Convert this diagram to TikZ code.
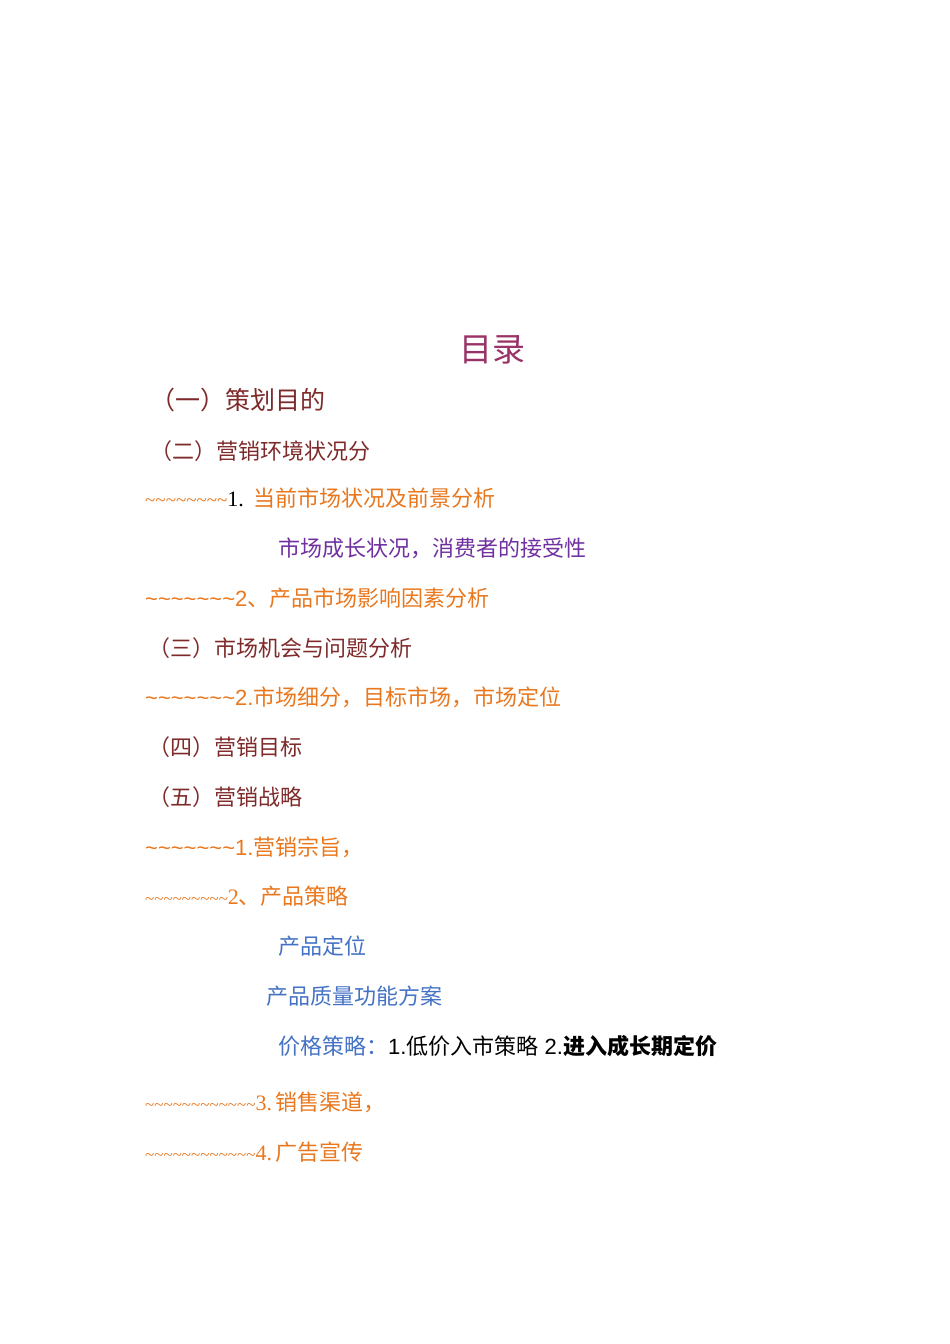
\documentclass[tikz,border=0pt]{standalone}
\usepackage{fontspec}
\setmainfont{Liberation Serif}
\newfontfamily\cjk{Noto Sans CJK SC}
\newfontfamily\lsans{Liberation Sans}
\def\T{\textasciitilde}
\definecolor{ttl}{HTML}{993366}
\definecolor{dred}{HTML}{7F2A2A}
\definecolor{org}{HTML}{E8771E}
\definecolor{pur}{HTML}{7030A0}
\definecolor{blu}{HTML}{4472C4}
\begin{document}
\begin{tikzpicture}[x=1pt,y=1pt,
  ln/.style={anchor=west,inner sep=0pt,font=\fontsize{22}{22}\selectfont}]
\useasboundingbox (0,0) rectangle (950,1344);
\node[inner sep=0pt,text=ttl,font=\fontsize{33}{33}\selectfont\cjk] (title) at (492,994) {目录};
\node[ln,text=dred,font=\fontsize{25}{25}\selectfont\cjk] (a1) at (150,944) {（一）策划目的};
\node[ln,text=dred,font=\fontsize{22}{22}\selectfont\cjk] (a2) at (150,893) {（二）营销环境状况分};
\node[ln,text=org] (a3) at (145,846) {{\fontsize{19}{19}\selectfont\T\T\T\T\T\T\T\T}{\color{black}1.}\hspace{10pt}{\cjk 当前市场状况及前景分析}};
\node[ln,text=pur,font=\fontsize{22}{22}\selectfont\cjk] (a4) at (278,796) {市场成长状况，消费者的接受性};
\node[ln,text=org] (a5) at (145,746) {\lsans\T\T\T\T\T\T\T2{\cjk 、产品市场影响因素分析}};
\node[ln,text=dred,font=\fontsize{22}{22}\selectfont\cjk] (a6) at (148,696) {（三）市场机会与问题分析};
\node[ln,text=org] (a7) at (145,647) {\lsans\T\T\T\T\T\T\T2.{\cjk 市场细分，目标市场，市场定位}};
\node[ln,text=dred,font=\fontsize{22}{22}\selectfont\cjk] (a8) at (148,597) {（四）营销目标};
\node[ln,text=dred,font=\fontsize{22}{22}\selectfont\cjk] (a9) at (148,547) {（五）营销战略};
\node[ln,text=org] (a10) at (145,497) {\lsans\T\T\T\T\T\T\T1.{\cjk 营销宗旨，}};
\node[ln,text=org] (a11) at (145,448) {{\fontsize{17}{17}\selectfont\T\T\T\T\T\T\T\T\T}2{\cjk 、产品策略}};
\node[ln,text=blu,font=\fontsize{22}{22}\selectfont\cjk] (a12) at (278,398) {产品定位};
\node[ln,text=blu,font=\fontsize{22}{22}\selectfont\cjk] (a13) at (266,348) {产品质量功能方案};
\node[ln,text=blu] (a14) at (278,298) {{\cjk 价格策略：}{\color{black}\lsans 1.{\cjk 低价入市策略} 2.{\cjk\bfseries 进入成长期定价}}};
\node[ln,text=org] (a15) at (145,242) {{\fontsize{17}{17}\selectfont\T\T\T\T\T\T\T\T\T\T\T\T}3.\,{\cjk 销售渠道，}};
\node[ln,text=org] (a16) at (145,192) {{\fontsize{17}{17}\selectfont\T\T\T\T\T\T\T\T\T\T\T\T}4.\,{\cjk 广告宣传}};
\end{tikzpicture}
\end{document}
